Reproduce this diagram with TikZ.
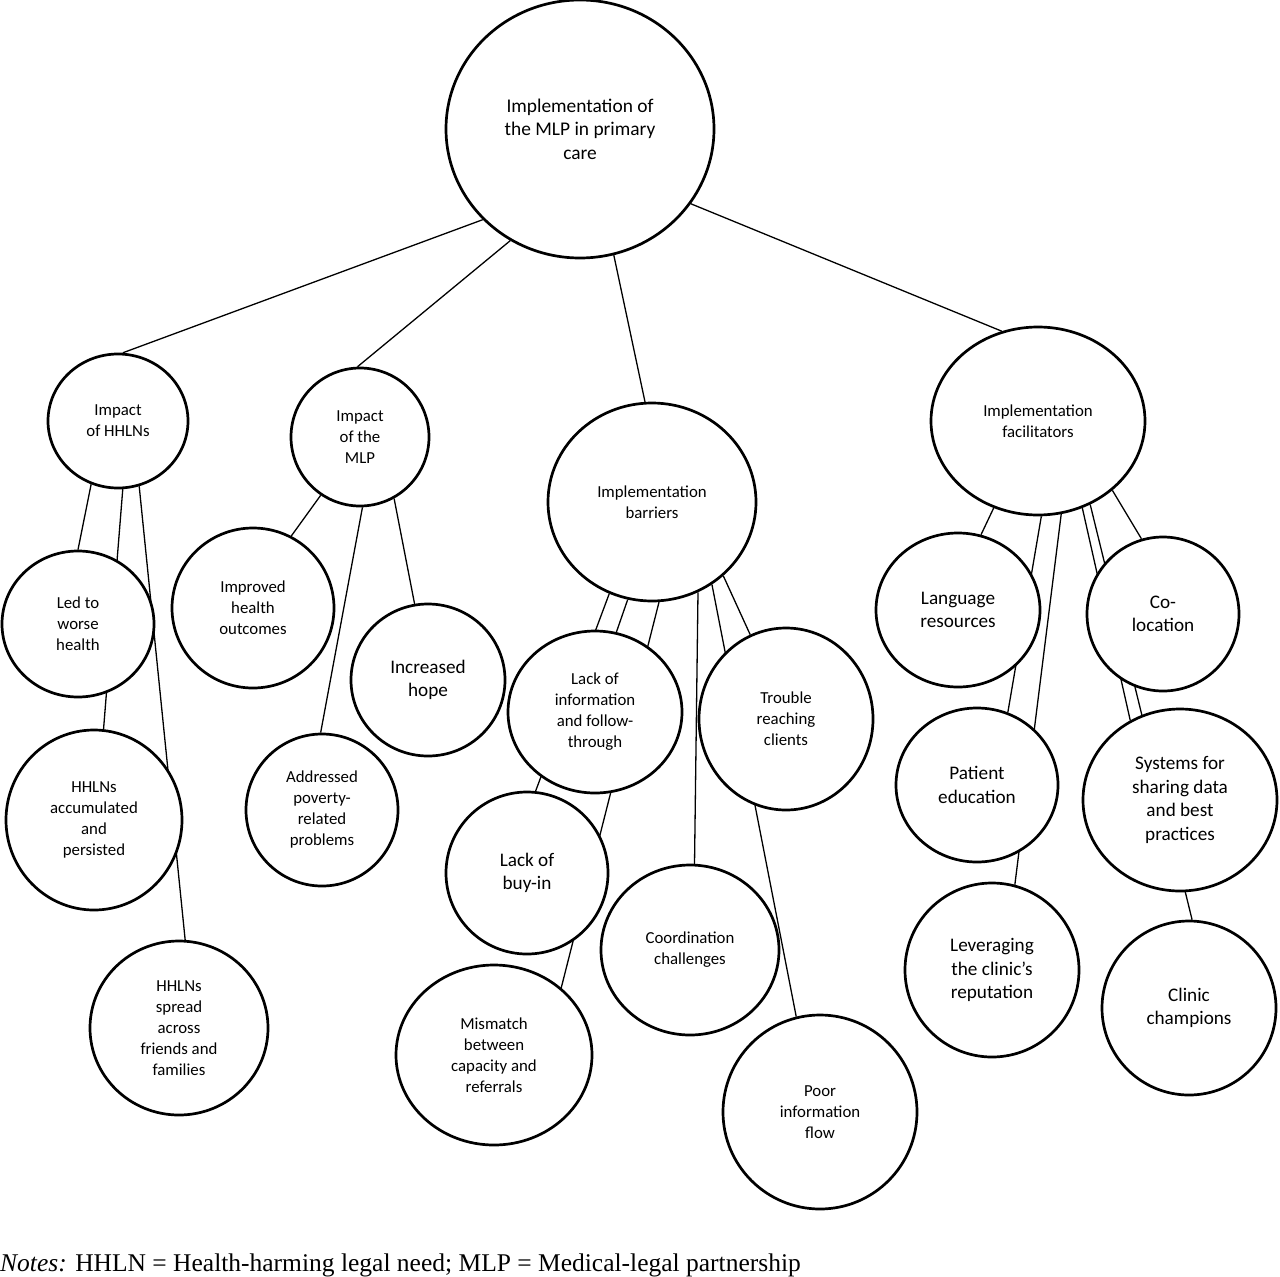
\documentclass[tikz,border=0pt]{standalone}
\usepackage{fontspec}
\setmainfont{Carlito}
\newfontfamily\notesfont{Liberation Serif}
\usepackage{tikz}
\usetikzlibrary{shapes,backgrounds}
\tikzset{mlpnode/.style={
    draw=black,
    line width=2.7pt,
    fill=white,
    ellipse,
    inner sep=0pt,
    align=center,
    font=\fontsize{16.8}{21}\selectfont}}
\tikzset{mlpbig/.style={
    font=\fontsize{19.2}{23.5}\selectfont}}
\tikzset{mlpsize/.style 2 args={
    minimum width=#1pt,
    minimum height=#2pt}}
\tikzset{mlpedge/.style={
    draw=black,
    line width=1.3pt}}

\begin{document}
\begin{tikzpicture}[x=1pt,y=-1pt]
\useasboundingbox (0,0) rectangle (1280,1277);

\node[mlpnode,mlpsize={268}{258},font=\fontsize{19.4}{23.5}\selectfont] (root) at (580,129) {Implementation of\\the MLP in primary\\care};

\node[mlpnode,mlpsize={140}{134}] (hhln) at (118,421) {Impact\\of HHLNs};
\node[mlpnode,mlpsize={138}{138}] (mlp) at (360,437) {Impact\\of the\\MLP};
\node[mlpnode,mlpsize={208}{198}] (barr) at (652,502) {Implementation\\barriers};
\node[mlpnode,mlpsize={214}{188}] (facil) at (1038,421) {Implementation\\facilitators};

\node[mlpnode,mlpsize={152}{146}] (worse) at (78,624) {Led to\\worse\\health};
\node[mlpnode,mlpsize={176}{180}] (accum) at (94,820) {HHLNs\\accumulated\\and\\persisted};
\node[mlpnode,mlpsize={178}{174}] (spread) at (179,1028) {HHLNs\\spread\\across\\friends and\\families};

\node[mlpnode,mlpsize={162}{160}] (improved) at (253,608) {Improved\\health\\outcomes};
\node[mlpnode,mlpsize={152}{152}] (poverty) at (322,810) {Addressed\\poverty-\\related\\problems};
\node[mlpnode,mlpbig,mlpsize={154}{152}] (hope) at (428,680) {Increased\\hope};

\node[mlpnode,mlpsize={174}{162}] (info) at (595,712) {Lack of\\information\\and follow-\\through};
\node[mlpnode,mlpsize={174}{182}] (trouble) at (786,719) {Trouble\\reaching\\clients};
\node[mlpnode,mlpbig,mlpsize={162}{162}] (buyin) at (527,873) {Lack of\\buy-in};
\node[mlpnode,mlpsize={178}{170}] (coord) at (690,950) {Coordination\\challenges};
\node[mlpnode,mlpsize={196}{180}] (mismatch) at (494,1055) {Mismatch\\between\\capacity and\\referrals};
\node[mlpnode,mlpsize={194}{194}] (poorflow) at (820,1112) {Poor\\information\\flow};

\node[mlpnode,mlpbig,mlpsize={164}{154}] (lang) at (958,610) {Language\\resources};
\node[mlpnode,mlpbig,mlpsize={152}{154}] (coloc) at (1163,614) {Co-\\location};
\node[mlpnode,mlpbig,mlpsize={162}{154}] (patient) at (977,785) {Patient\\education};
\node[mlpnode,mlpbig,mlpsize={194}{182}] (systems) at (1180,800) {Systems for\\sharing data\\and best\\practices};
\node[mlpnode,mlpbig,mlpsize={174}{174}] (leverage) at (992,970) {Leveraging\\the clinic’s\\reputation};
\node[mlpnode,mlpbig,mlpsize={174}{174}] (champ) at (1189,1008) {Clinic\\champions};

\begin{pgfonlayer}{background}
\draw[mlpedge] (root.223) -- (hhln.86);
\draw[mlpedge] (root.238) -- (mlp.92);
\draw[mlpedge] (root.285) -- (barr.94);
\draw[mlpedge] (root.326) -- (facil.112);

\draw[mlpedge] (hhln.247) -- (worse.90);
\draw[mlpedge] (hhln.274) -- (accum.84);
\draw[mlpedge] (hhln.288) -- (spread.86);

\draw[mlpedge] (mlp.236) -- (improved.62);
\draw[mlpedge] (mlp.272) -- (poverty.91);
\draw[mlpedge] (mlp.299) -- (hope.100);

\draw[mlpedge] (barr.245) -- (buyin.84);
\draw[mlpedge] (barr.256) -- (info.75);
\draw[mlpedge] (barr.274) -- (mismatch.45);
\draw[mlpedge] (barr.297) -- (coord.87);
\draw[mlpedge] (barr.306) -- (poorflow.104);
\draw[mlpedge] (barr.314) -- (trouble.113);

\draw[mlpedge] (facil.243) -- (lang.73);
\draw[mlpedge] (facil.272) -- (patient.67);
\draw[mlpedge] (facil.284) -- (leverage.75);
\draw[mlpedge] (facil.297) -- (systems.122);
\draw[mlpedge] (facil.302) -- (champ.88);
\draw[mlpedge] (facil.317) -- (coloc.106);
\end{pgfonlayer}

\node[anchor=base west,inner sep=0pt,font=\notesfont\fontsize{25.5}{30}\selectfont] (notes) at (0,1271) {\textit{Notes:} HHLN = Health-harming legal need; MLP = Medical-legal partnership};
\end{tikzpicture}
\end{document}
